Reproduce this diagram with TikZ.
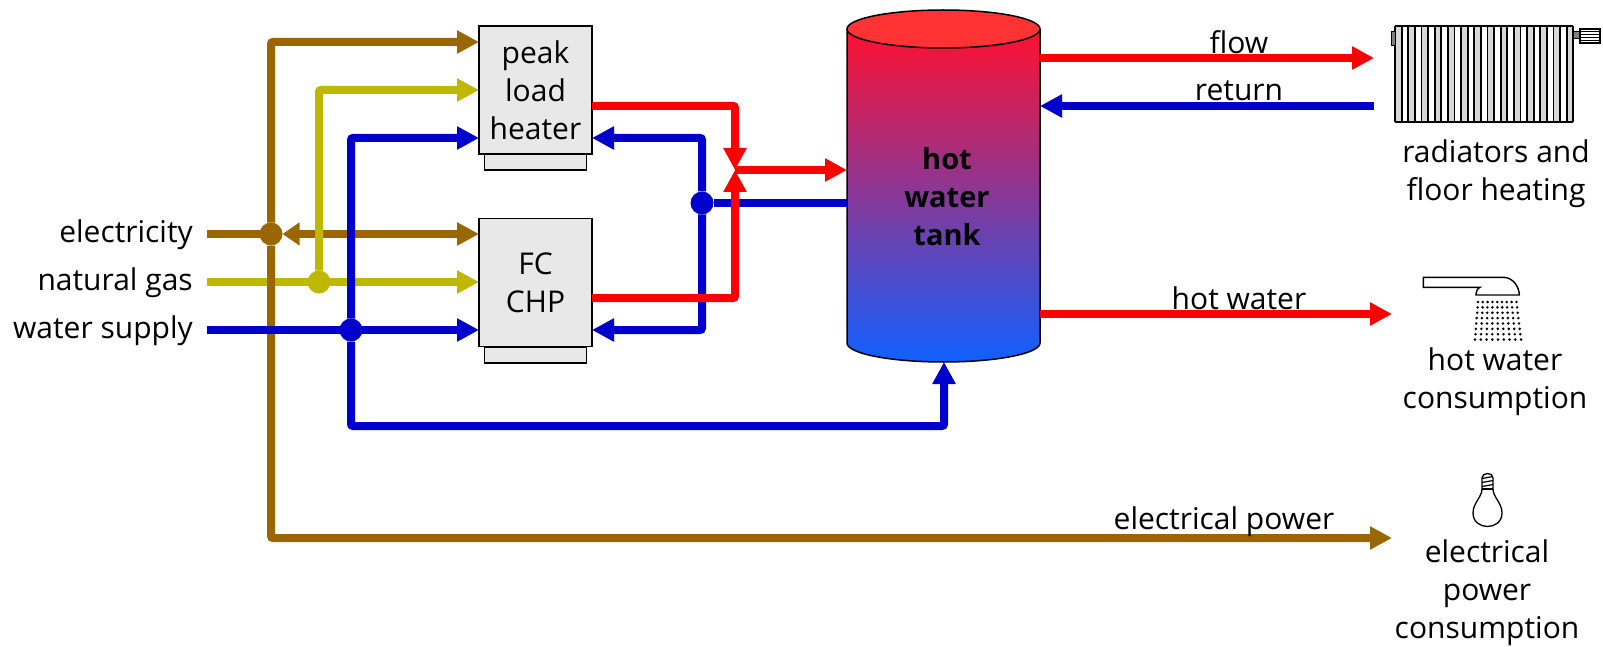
\documentclass[tikz,border=0pt]{standalone}
\usepackage{fontspec}
\setmainfont{Open Sans}
\usetikzlibrary{arrows.meta,positioning}
\definecolor{pipebrown}{HTML}{996600}
\definecolor{pipeolive}{HTML}{BFB800}
\definecolor{pipeblue}{HTML}{0000CC}
\definecolor{pipered}{HTML}{FF0000}
\definecolor{unitgray}{HTML}{E8E8E8}
\definecolor{slatgray}{HTML}{D8D8D8}
\definecolor{tanktop}{HTML}{FF1030}
\definecolor{tankmid}{HTML}{B050C8}
\definecolor{tankbottom}{HTML}{1060FF}
\definecolor{tanklid}{HTML}{FF3333}
\tikzset{
  pipe/.style={line width=8pt,rounded corners=2pt},
  flowto/.style={pipe,-{Triangle[length=22pt,width=22pt]}},
  flowboth/.style={pipe,{Triangle[length=17pt,width=22pt]}-{Triangle[length=22pt,width=22pt]}},
  junction/.style={circle,minimum size=23pt,inner sep=0pt,outer sep=0pt},
  unit/.style={draw,fill=unitgray,line width=1.6pt,minimum width=113pt,minimum height=128pt,inner sep=0pt,outer sep=0pt,align=center},
  unitbase/.style={draw,fill=unitgray,line width=1.4pt,minimum width=102pt,minimum height=16pt,inner sep=0pt,outer sep=0pt},
  txt/.style={inner sep=0pt,align=center,font=\fontsize{30}{38}\selectfont}
}
\begin{document}
\begin{tikzpicture}[x=1pt,y=-1pt]
\useasboundingbox (0,0) rectangle (1603,647);
\node[unitbase] (peakbase) at (535.5,162) {};
\node[unitbase] (fcbase) at (535.5,355) {};
\node[unit,txt] (peak) at (535.5,90) {peak\\load\\heater};
\node[unit,txt] (fc) at (535.5,282.5) {FC\\CHP};
\node[minimum width=193pt,minimum height=352pt,inner sep=0pt,outer sep=0pt] (tank) at (943.5,186) {};
\node[txt,anchor=east] (elec) at (193,235) {electricity};
\node[txt,anchor=east] (gas) at (193,283) {natural gas};
\node[txt,anchor=east] (water) at (193,331) {water supply};
\node[junction,fill=pipebrown] (eldot) at (271,234) {};
\node[junction,fill=pipeolive] (gasdot) at (319,282) {};
\node[junction,fill=pipeblue] (waterdot) at (351,330) {};
\node[junction,fill=pipeblue] (returndot) at (702,203) {};
\coordinate (elstart) at (207,234);
\coordinate (gasstart) at (207,282);
\coordinate (waterstart) at (207,330);
\coordinate (mixer) at (735,170);
\coordinate (radflow) at (1374,58);
\coordinate (radreturn) at (1374,106);
\coordinate (tap) at (1392,314);
\coordinate (lamp) at (1392,538);
% tank
\shade[top color=tanktop,middle color=tankmid,bottom color=tankbottom] (847,29) -- (847,343) arc[start angle=180,end angle=360,x radius=96.5pt,y radius=19pt] -- (1040,29) -- cycle;
\draw[line width=1.5pt] (847,29) -- (847,343) arc[start angle=180,end angle=360,x radius=96.5pt,y radius=19pt] -- (1040,29);
\draw[line width=1.5pt,fill=tanklid] (943.5,29) ellipse[x radius=96.5pt,y radius=19pt];
\node[txt,font=\fontsize{29}{38}\selectfont\bfseries] (tanktxt) at (947,197) {hot\\water\\tank};
% pipes
\draw[pipe,pipeolive,-{Triangle[length=22pt,width=22pt]}] (gasstart) -- (fc.west |- gasstart);
\draw[pipe,pipebrown] (elstart) -- (eldot);
\draw[flowboth,pipebrown] (eldot.east) -- (fc.west |- eldot);
\draw[flowto,pipeolive] (gasdot) |- (peak.west |- 0,90);
\draw[flowto,pipebrown] (eldot) |- (lamp);
\draw[flowto,pipebrown] (eldot) |- (peak.west |- 0,42);
\draw[flowto,pipeblue] (waterstart) -- (fc.west |- waterdot);
\draw[flowto,pipeblue] (waterdot) |- (peak.west |- 0,138);
\draw[flowto,pipeblue] (waterdot) |- (944,426) -- (tank.south -| 944,0);
\draw[flowto,pipeblue] (returndot) |- (peak.east |- 0,138);
\draw[flowto,pipeblue] (returndot) |- (fc.east |- waterdot);
\draw[pipe,pipeblue] (returndot) -- (tank.west |- returndot);
\draw[flowto,pipered] (peak.east |- 0,106) -| (mixer);
\draw[flowto,pipered] (fc.east |- 0,298) -| (mixer);
\draw[flowto,pipered] (mixer) -- (tank.west |- mixer);
\draw[flowto,pipered] (tank.east |- radflow) -- (radflow);
\draw[flowto,pipeblue] (radreturn) -- (tank.east |- radreturn);
\draw[flowto,pipered] (tank.east |- tap) -- (tap);
% labels
\node[txt] (flowtxt) at (1239,42) {flow};
\node[txt] (returntxt) at (1239,91) {return};
\node[txt] (hottxt) at (1239,298) {hot water};
\node[txt] (powertxt) at (1224,522) {electrical power};
\node[txt] (radtxt) at (1496,174) {radiators and\\floor heating};
\node[txt] (showertxt) at (1495,382) {hot water\\consumption};
\node[txt] (bulbtxt) at (1487,593) {electrical\\power\\consumption};
% radiator
\fill[slatgray] (1395,26) rectangle (1573,122);
\foreach \i in {1,3,...,25} \fill[white] ({1395+6.6*\i},26) rectangle ({1395+6.6*(\i+1)},122);
\foreach \i in {0,...,27} \draw[line width=1.8pt] ({1395+6.6*\i},26) -- ({1395+6.6*\i},122);
\draw[line width=1.8pt] (1395,26) -- (1573,26) (1395,122) -- (1573,122);
\draw[line width=1pt,fill=gray] (1391,32) rectangle (1395,46);
\draw[line width=1pt,fill=gray] (1573,32) rectangle (1580,39);
\draw[line width=1.2pt,fill=white] (1580,29) rectangle (1600,43);
\foreach \y in {32,35,38,41} \draw[line width=1pt] (1580,\y) -- (1600,\y);
% shower
\draw[line width=1.4pt,fill=white] (1423.3,277.3) -- (1503.3,277.3) .. controls (1513,277.3) and (1519.3,287) .. (1519.3,295) -- (1476,295) .. controls (1476,291) and (1478,288) .. (1480,287.3) -- (1423.3,287.3) -- cycle;
\foreach \r in {0,...,7}
  \foreach \c in {0,...,8}
    \fill ({1478-0.43*\r+(4.8+0.136*\r)*\c},{302+5.37*\r}) circle (1.4);
% bulb
\draw[line width=1.3pt] (1482,489) -- (1482,478) .. controls (1482,472) and (1493,472) .. (1493,478) -- (1493,489);
\foreach \y in {477,481,485} \draw[line width=1.2pt] (1482,\y+1.5) -- (1493,\y-0.5);
\draw[line width=1.3pt] (1482,489) -- (1493,489);
\draw[line width=1.3pt] (1482,489) .. controls (1482,497) and (1473,503) .. (1473,513) .. controls (1473,531) and (1502,531) .. (1502,513) .. controls (1502,503) and (1493,497) .. (1493,489);
\end{tikzpicture}
\end{document}
